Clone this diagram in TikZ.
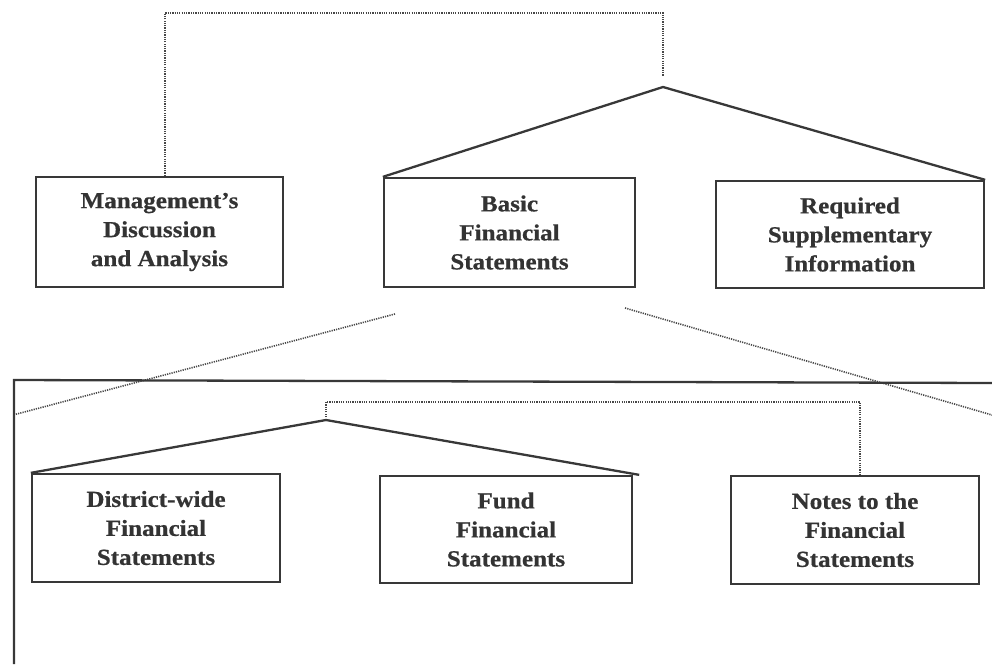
\documentclass[tikz,border=0pt]{standalone}
\usepackage{fontspec}
\setmainfont{Liberation Serif}
\newfontfamily\boxfont[FakeStretch=1.09,FakeBold=0.6,Ligatures=TeX]{Liberation Serif}
\begin{document}
\begin{tikzpicture}[x=1pt,y=-1pt,
  box/.style={draw=black!78,line width=2.3pt,align=center,inner sep=0pt,
    font=\boxfont\fontsize{23}{29}\selectfont\bfseries,text=black!80},
  solidln/.style={draw=black!78,line width=2.3pt},
  dotln/.style={draw=black!72,line width=1.6pt,dash pattern=on 1.2pt off 1.1pt}]
\useasboundingbox (0,0) rectangle (992,664);
% top level boxes
\node[box,minimum width=247pt,minimum height=110pt] (mgmt) at (159.5,232) {Management’s\\Discussion\\and Analysis};
\node[box,minimum width=251pt,minimum height=109pt] (basic) at (509.5,232.5) {Basic\\Financial\\Statements};
\node[box,minimum width=268pt,minimum height=107pt] (rsi) at (850,234.5) {Required\\Supplementary\\Information};
% top connectors
\coordinate (tpeak) at (663,87);
\coordinate (tcorner1) at (165,13);
\coordinate (tcorner2) at (663,13);
\coordinate (tstub) at (663,76);
\draw[dotln] (mgmt.north -| tcorner1) -- (tcorner1) -- (tcorner2) -- (tstub);
\draw[solidln] (basic.north west) -- (tpeak) -- (rsi.north east);
% zoom lines
\coordinate (zl1) at (395,314);
\coordinate (zl2) at (13,415);
\coordinate (zr1) at (625,308);
\coordinate (zr2) at (992,415);
\draw[dotln] (zl1) -- (zl2);
\draw[dotln] (zr1) -- (zr2);
% large frame
\coordinate (f1) at (14,664);
\coordinate (f2) at (14,380);
\coordinate (f3) at (992,383);
\draw[solidln] (f1) -- (f2) -- (f3);
% bottom boxes
\node[box,minimum width=248pt,minimum height=108pt] (dist) at (156,528) {District-wide\\Financial\\Statements};
\node[box,minimum width=252pt,minimum height=107pt] (fund) at (506,529.5) {Fund\\Financial\\Statements};
\node[box,minimum width=248pt,minimum height=108pt] (notes) at (855,530) {Notes to the\\Financial\\Statements};
% bottom connectors
\coordinate (bpeak) at (326,420);
\coordinate (bstub) at (326,417);
\coordinate (bcorner1) at (326,402);
\coordinate (bcorner2) at (860,402);
\draw[dotln] (bstub) -- (bcorner1) -- (bcorner2) -- (notes.north -| bcorner2);
\draw[solidln] (dist.north west) -- (bpeak) -- ([xshift=6pt]fund.north east);
\end{tikzpicture}
\end{document}
